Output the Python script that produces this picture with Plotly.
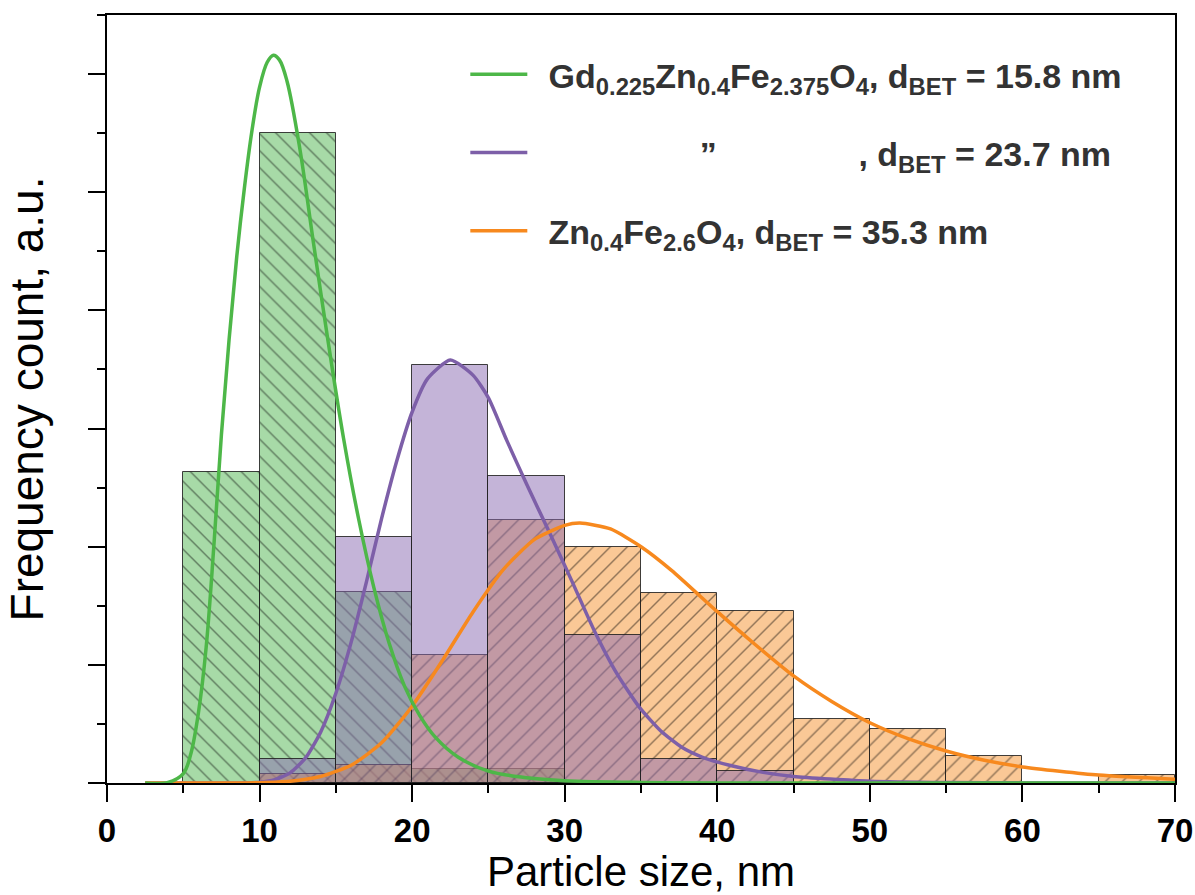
import plotly.graph_objects as go

# ---------------- data ----------------
bin_centers = [7.5, 12.5, 17.5, 22.5, 27.5, 32.5, 37.5, 42.5, 47.5, 52.5, 57.5, 62.5, 67.5]
green_pct  = [26.3, 55.0, 16.2, 1.2, 1.2, None, None, None, None, None, None, None, None]
purple_pct = [None, 2.0, 20.8, 35.4, 26.0, 12.5, 2.0, 1.0, None, None, None, None, None]
orange_pct = [None, 0.8, 1.5, 10.8, 22.3, 20.0, 16.1, 14.6, 5.4, 4.6, 2.3, None, 0.7]

green_fit_x = [2.5, 4.0, 5.0, 5.5, 6.0, 6.5, 7.0, 7.5, 8.0, 8.5, 9.0, 9.5, 10.0, 10.5, 10.9,
               11.3, 11.8, 12.65, 13.5, 14.5, 15.5, 16.5, 17.5, 18.5, 19.5, 20.5, 21.5, 23.0,
               25.0, 27.5, 30.0, 35.0, 40.0, 70.0]
green_fit_y = [0, 0.05, 0.8, 2.5, 6.0, 11.5, 20.0, 29.5, 37.5, 44.5, 50.3, 55.2, 58.9, 61.0, 61.6,
               61.2, 59.4, 53.6, 46.0, 37.3, 29.2, 22.3, 16.5, 11.8, 8.2, 5.7, 3.9, 2.2,
               1.0, 0.45, 0.2, 0.05, 0.01, 0]

purple_fit_x = [2.5, 8.0, 10.0, 11.0, 12.0, 13.0, 14.0, 15.0, 16.0, 17.0, 18.0, 19.0, 20.0, 21.0,
                22.5, 24.0, 25.0, 26.2, 27.5, 29.0, 30.5, 31.9, 33.4, 34.9, 36.3, 37.7, 39.0,
                40.8, 43.0, 45.0, 50.0, 55.0, 60.0, 70.0]
purple_fit_y = [0, 0, 0.07, 0.28, 0.86, 2.1, 4.3, 7.6, 11.9, 17.0, 22.4, 27.3, 31.4, 34.2,
                35.8, 34.5, 32.6, 29.0, 25.3, 21.2, 17.0, 13.0, 9.3, 6.4, 4.4, 3.0, 2.2,
                1.5, 0.9, 0.55, 0.15, 0.04, 0.01, 0]

orange_fit_x = [2.5, 8.0, 10.0, 12.0, 14.0, 16.0, 18.0, 20.0, 22.0, 24.0, 26.0, 28.0, 30.0, 31.0,
                33.0, 35.0, 37.0, 40.0, 42.5, 45.0, 47.5, 50.0, 52.5, 55.0, 57.5, 60.0, 65.0, 70.0]
orange_fit_y = [0, 0, 0.03, 0.15, 0.55, 1.5, 3.4, 6.5, 10.4, 14.5, 18.1, 20.6, 21.8, 22.0,
                21.5, 20.0, 18.0, 14.5, 11.7, 9.06, 6.9, 5.1, 3.75, 2.71, 1.93, 1.36, 0.67, 0.32]

lead = "\u00a0\u2009"
labels = [
    lead + "Gd<sub>0.225</sub>Zn<sub>0.4</sub>Fe<sub>2.375</sub>O<sub>4</sub>, d<sub>BET</sub> = 15.8 nm",
    lead + "\u00a0" * 16 + "\u201d" + "\u00a0" * 15 + ", d<sub>BET</sub> = 23.7 nm",
    lead + "Zn<sub>0.4</sub>Fe<sub>2.6</sub>O<sub>4</sub>, d<sub>BET</sub> = 35.3 nm",
]

GREEN = "rgb(77,183,72)"
PURPLE = "rgb(125,95,168)"
ORANGE = "rgb(247,137,30)"
GREEN_FILL = "rgba(80,182,80,0.5)"
PURPLE_FILL = "rgba(137,105,177,0.5)"
ORANGE_FILL = "rgba(245,145,45,0.5)"

FONT = "Liberation Sans, Arial, sans-serif"

fig = go.Figure()

bar_line = dict(color="rgba(30,30,30,0.85)", width=1)
fig.add_trace(go.Bar(x=bin_centers, y=green_pct, width=5, showlegend=False,
                     marker=dict(color=GREEN_FILL, line=bar_line,
                                 pattern=dict(shape="\\", fgcolor="rgba(0,0,0,0.85)",
                                              size=12, solidity=0.12, fillmode="overlay"))))
fig.add_trace(go.Bar(x=bin_centers, y=orange_pct, width=5, showlegend=False,
                     marker=dict(color=ORANGE_FILL, line=bar_line,
                                 pattern=dict(shape="/", fgcolor="rgba(0,0,0,0.85)",
                                              size=12, solidity=0.12, fillmode="overlay"))))
fig.add_trace(go.Bar(x=bin_centers, y=purple_pct, width=5, showlegend=False,
                     marker=dict(color=PURPLE_FILL, line=bar_line)))

line_kw = dict(width=3.5, shape="spline", smoothing=0.6)
fig.add_trace(go.Scatter(x=purple_fit_x, y=purple_fit_y, mode="lines", name=labels[1],
                         legendgroup="b", legendrank=2, line=dict(color=PURPLE, **line_kw)))
fig.add_trace(go.Scatter(x=orange_fit_x, y=orange_fit_y, mode="lines", name=labels[2],
                         legendgroup="c", legendrank=3, line=dict(color=ORANGE, **line_kw)))
fig.add_trace(go.Scatter(x=green_fit_x, y=green_fit_y, mode="lines", name=labels[0],
                         legendgroup="a", legendrank=1,
                         line=dict(color=GREEN, width=3.5, shape="spline", smoothing=1.0)))

fig.update_layout(
    width=1195, height=895,
    margin=dict(l=107, r=20, t=15, b=112, autoexpand=False),
    paper_bgcolor="white", plot_bgcolor="white",
    barmode="overlay", bargap=0,
    font=dict(family=FONT, color="black"),
    legend=dict(x=0.3355, y=0.96, xanchor="left", yanchor="top",
                bgcolor="rgba(0,0,0,0)", tracegroupgap=31, itemwidth=57,
                font=dict(family=FONT, size=34, color="#333333", weight="bold")),
    xaxis=dict(range=[0, 70], dtick=10, tick0=0, ticks="outside", ticklen=17, tickwidth=2,
               tickcolor="black", showline=True, linewidth=2, linecolor="black", mirror=True,
               showgrid=False, zeroline=False, automargin=False,
               tickfont=dict(family=FONT, size=33, color="black", weight="bold"),
               minor=dict(dtick=5, ticks="outside", ticklen=8, tickwidth=2, tickcolor="black",
                          showgrid=False),
               title=dict(text="Particle size, nm", font=dict(family=FONT, size=42, color="black"),
                          standoff=9)),
    yaxis=dict(range=[0, 65], dtick=10, tick0=0, ticks="outside", ticklen=17, tickwidth=2,
               tickcolor="black", showline=True, linewidth=2, linecolor="black", mirror=True,
               showgrid=False, zeroline=False, showticklabels=False, automargin=False,
               minor=dict(dtick=5, ticks="outside", ticklen=8, tickwidth=2, tickcolor="black",
                          showgrid=False),
               title=dict(text="Frequency count, a.u.", font=dict(family=FONT, size=46, color="black"),
                          standoff=30)),
)

fig.write_html("out.html")
